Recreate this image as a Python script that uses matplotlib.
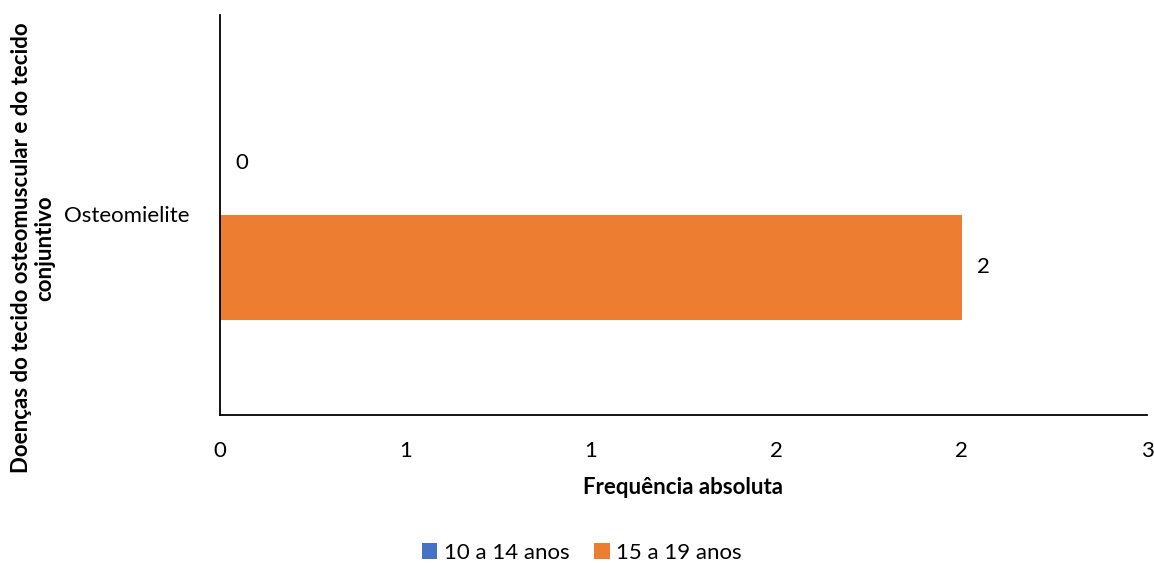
import numpy as np
import matplotlib.pyplot as plt

plt.rcParams['font.family'] = ['Lato', 'DejaVu Sans']

# dados
categorias = ['Osteomielite']
series = ['10 a 14 anos', '15 a 19 anos']
valores_10_14 = [0]
valores_15_19 = [2]
cores = ['#4472C4', '#ED7D31']
xticks = [0, 0.5, 1, 1.5, 2, 2.5]
xtick_labels = ['0', '1', '1', '2', '2', '3']

fs = 16

fig = plt.figure(figsize=(11.54, 5.63), dpi=100)
ax = fig.add_axes([220 / 1154, 1 - 415 / 563, 927 / 1154, 400 / 563])

y = np.arange(len(categorias))
h = 0.262
b1 = ax.barh(y + 0.131, valores_10_14, height=h, color=cores[0], label=series[0])
b2 = ax.barh(y - 0.131, valores_15_19, height=h, color=cores[1], label=series[1])

ax.bar_label(b1, labels=[str(v) for v in valores_10_14], padding=11, fontsize=fs)
ax.bar_label(b2, labels=[str(v) for v in valores_15_19], padding=11, fontsize=fs)

ax.set_xlim(0, 2.5)
ax.set_ylim(-0.5, 0.5)
ax.set_xticks(xticks)
ax.set_xticklabels(xtick_labels, fontsize=fs)
ax.set_yticks(y + 0.0025)
ax.set_yticklabels(categorias, fontsize=fs)
ax.tick_params(axis='x', length=0, pad=19)
ax.tick_params(axis='y', length=0, pad=22)

for s in ['top', 'right']:
    ax.spines[s].set_visible(False)
ax.spines['left'].set_linewidth(1.3)
ax.spines['bottom'].set_linewidth(1.3)

fig.text(683 / 1154, 1 - 487 / 563, 'Frequência absoluta', ha='center', va='center',
         fontsize=fs, fontweight='bold')
fig.text(33 / 1154, 1 - 248 / 563, 'Doenças do tecido osteomuscular e do tecido\nconjuntivo',
         ha='center', va='center', rotation=90, fontsize=fs, fontweight='bold',
         multialignment='center', linespacing=1.15)

fig.legend(loc='center', bbox_to_anchor=(582 / 1154, 1 - 553 / 563), ncol=2, frameon=False,
           fontsize=fs, handlelength=0.7, handleheight=0.7, handletextpad=0.3, columnspacing=1.1)

fig.savefig('out.png', dpi=100)
